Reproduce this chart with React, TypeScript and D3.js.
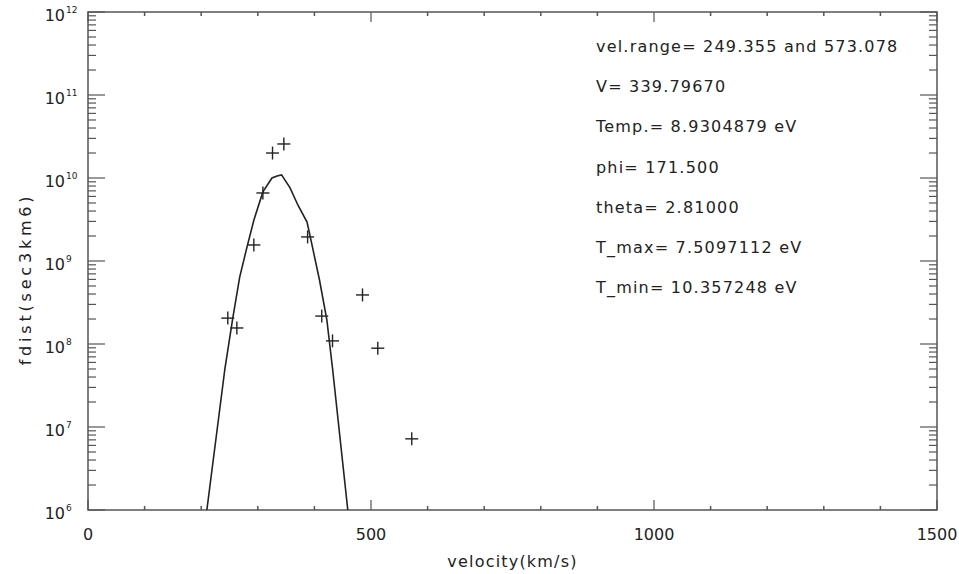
import React from 'react';
import * as d3 from 'd3';

const W = 959;
const H = 574;
const margin = { top: 12, right: 22, bottom: 64, left: 88 };

// measured distribution (velocity km/s, fdist s^3/km^6)
const obsVel = [247, 263, 293, 309, 326, 346, 388, 413, 432, 485, 512, 572];
const obsF = [2.05e8, 1.56e8, 1.56e9, 6.6e9, 2.0e10, 2.57e10, 1.95e9, 2.17e8, 1.09e8, 3.9e8, 8.9e7, 7.2e6];

// fitted curve
const fitVel = [210, 242, 256, 268, 281, 293, 309, 325, 334, 342, 357, 371, 387, 395, 409, 422, 432, 459];
const fitF = [1.0e6, 5.1e7, 2.1e8, 6.4e8, 1.48e9, 3.1e9, 6.8e9, 1.0e10, 1.06e10, 1.09e10, 7.6e9, 4.7e9, 2.95e9, 1.65e9, 5.9e8, 1.95e8, 5.1e7, 1.0e6];

const xMajor = [0, 500, 1000, 1500];
const yExp = [6, 7, 8, 9, 10, 11, 12];

const infoLines = [
  'vel.range= 249.355 and 573.078',
  'V= 339.79670',
  'Temp.= 8.9304879 eV',
  'phi= 171.500',
  'theta= 2.81000',
  'T_max= 7.5097112 eV',
  'T_min= 10.357248 eV',
];

const FONT = '"DejaVu Sans", sans-serif';
const INK = '#222';
const AXIS = '#555';

export default function App() {
  const x0 = margin.left;
  const x1 = W - margin.right;
  const y0 = H - margin.bottom;
  const y1 = margin.top;

  const x = d3.scaleLinear().domain([0, 1500]).range([x0, x1]);
  const y = d3.scaleLog().domain([1e6, 1e12]).range([y0, y1]);

  const minorX = x.ticks(15).filter(v => !xMajor.includes(v));
  const minorY = y.ticks().filter(v => Math.abs(Math.log10(v) - Math.round(Math.log10(v))) > 1e-6);

  const line = d3.line<number>()
    .x((_, i) => x(fitVel[i]))
    .y((_, i) => y(fitF[i]));

  return (
    <svg width={W} height={H} style={{ position: 'absolute', left: 0, top: 0, background: '#fff' }}>
      <defs>
        <clipPath id="plot">
          <rect x={x0} y={y1} width={x1 - x0} height={y0 - y1} />
        </clipPath>
      </defs>

      {/* frame */}
      <rect x={x0} y={y1} width={x1 - x0} height={y0 - y1} fill="none" stroke={AXIS} strokeWidth={1.5} />

      {/* x ticks, bottom and top */}
      {xMajor.map(v => (
        <g key={'xm' + v}>
          <line x1={x(v)} x2={x(v)} y1={y0} y2={y0 - 10} stroke={AXIS} strokeWidth={1.2} />
          <line x1={x(v)} x2={x(v)} y1={y1} y2={y1 + 10} stroke={AXIS} strokeWidth={1.2} />
          <text x={x(v)} y={540} textAnchor="middle" fontFamily={FONT} fontSize={16} fill={INK}>{v}</text>
        </g>
      ))}
      {minorX.map(v => (
        <g key={'xn' + v}>
          <line x1={x(v)} x2={x(v)} y1={y0} y2={y0 - 4} stroke={AXIS} strokeWidth={1.5} />
          <line x1={x(v)} x2={x(v)} y1={y1} y2={y1 + 4} stroke={AXIS} strokeWidth={1.5} />
        </g>
      ))}

      {/* y ticks, left and right */}
      {yExp.map(e => (
        <g key={'ym' + e}>
          <line x1={x0} x2={x0 + 17} y1={y(10 ** e)} y2={y(10 ** e)} stroke={AXIS} strokeWidth={1.2} />
          <line x1={x1} x2={x1 - 17} y1={y(10 ** e)} y2={y(10 ** e)} stroke={AXIS} strokeWidth={1.2} />
          <text x={65} y={y(10 ** e) + 9} textAnchor="end" fontFamily={FONT} fontSize={16} fill={INK}>10</text>
          <text x={66} y={y(10 ** e) + 1} textAnchor="start" fontFamily={FONT} fontSize={9} fill={INK}>{e}</text>
        </g>
      ))}
      {minorY.map(v => (
        <g key={'yn' + v}>
          <line x1={x0} x2={x0 + 8} y1={y(v)} y2={y(v)} stroke={AXIS} strokeWidth={1.2} />
          <line x1={x1} x2={x1 - 8} y1={y(v)} y2={y(v)} stroke={AXIS} strokeWidth={1.2} />
        </g>
      ))}

      {/* fitted curve */}
      <g clipPath="url(#plot)">
        <path d={line(fitVel) || ''} fill="none" stroke={INK} strokeWidth={1.6} />
      </g>

      {/* data crosses */}
      {obsVel.map((v, i) => {
        const cx = x(v);
        const cy = y(obsF[i]);
        return (
          <g key={'p' + i} stroke={INK} strokeWidth={1.4}>
            <line x1={cx - 6.5} x2={cx + 6.5} y1={cy} y2={cy} />
            <line x1={cx} x2={cx} y1={cy - 6.5} y2={cy + 6.5} />
          </g>
        );
      })}

      {/* annotations */}
      {infoLines.map((t, i) => (
        <text key={t} x={596} y={52 + i * 40.2} fontFamily={FONT} fontSize={16} letterSpacing={1.2} fill={INK}>{t}</text>
      ))}

      {/* axis titles */}
      <text x={(x0 + x1) / 2} y={567} textAnchor="middle" fontFamily={FONT} fontSize={16} letterSpacing={1.2} fill={INK}>
        velocity(km/s)
      </text>
      <text transform="translate(31,279) rotate(-90)" textAnchor="middle" fontFamily={FONT} fontSize={16} letterSpacing={3.8} fill={INK}>
        fdist(sec3km6)
      </text>
    </svg>
  );
}
